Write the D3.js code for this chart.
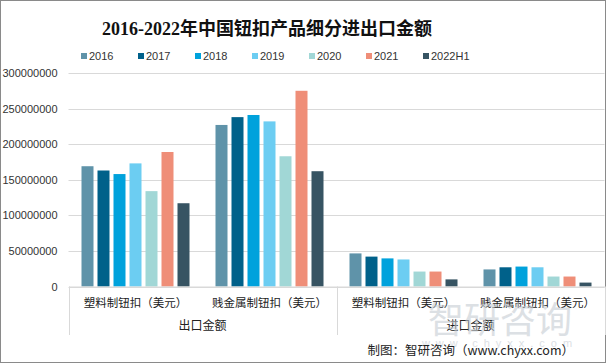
<!DOCTYPE html>
<html><head><meta charset="utf-8">
<script src="https://cdn.jsdelivr.net/npm/d3@7"></script>
<style>body{margin:0;background:#fff}svg{display:block}</style>
</head><body>
<script>
const categories = ["塑料制钮扣（美元）","贱金属制钮扣（美元）","塑料制钮扣（美元）","贱金属制钮扣（美元）"];
const groups = ["出口金额","进口金额"];
const years = ["2016","2017","2018","2019","2020","2021","2022H1"];
const colors = ["#5f93a9","#00618a","#00a2dc","#6ccdf2","#a1d7d6","#ef8e78","#375463"];
const v2016   = [169000000, 227000000, 46500000, 24000000];
const v2017   = [163000000, 238000000, 42000000, 27000000];
const v2018   = [158000000, 241000000, 39500000, 28000000];
const v2019   = [173000000, 232000000, 38000000, 27000000];
const v2020   = [134000000, 183000000, 21000000, 14000000];
const v2021   = [189000000, 275000000, 21000000, 14000000];
const v2022H1 = [117000000, 162000000, 10000000, 5500000];
const yTicks = [0,50000000,100000000,150000000,200000000,250000000,300000000];
const series = [v2016,v2017,v2018,v2019,v2020,v2021,v2022H1];

const W=606,H=363;
const svg=d3.select("body").append("svg").attr("width",W).attr("height",H);
svg.append("rect").attr("x",0.5).attr("y",0.5).attr("width",W-1).attr("height",H-1).attr("fill","#fff").attr("stroke","#8a8a8a");

const pL=68.5,pR=604.5,pT=73,pB=286.5;
const x=d3.scaleBand().domain(d3.range(categories.length)).range([pL,pR]).padding(0);
const xi=d3.scaleBand().domain(years).range([0,x.bandwidth()]).paddingInner(0.25).paddingOuter(0.8125);
const y=d3.scaleLinear().domain([0,300000000]).range([pB,pT]);

// title
svg.append("text").attr("x",267).attr("y",35).attr("text-anchor","middle")
  .attr("font-family","'Liberation Serif','Noto Sans CJK SC',serif").attr("font-weight","bold")
  .attr("font-size",18).attr("fill","#111").text("2016-2022年中国钮扣产品细分进出口金额");

// legend
const lg=svg.append("g");
years.forEach((yr,i)=>{
  const gx=81+i*57;
  lg.append("rect").attr("x",gx).attr("y",53).attr("width",6).attr("height",6).attr("fill",colors[i]);
  lg.append("text").attr("x",gx+8).attr("y",60).attr("font-family","'Liberation Sans',Arial,sans-serif")
    .attr("font-size",11).attr("fill","#333").text(yr);
});

// gridlines
svg.append("g").selectAll("line").data(yTicks).join("line")
  .attr("x1",pL).attr("x2",pR).attr("y1",d=>Math.round(y(d))+0.5).attr("y2",d=>Math.round(y(d))+0.5)
  .attr("stroke","#d9d9d9").attr("stroke-width",1);

// y axis labels
const ya=svg.append("g").attr("transform",`translate(${pL},0)`)
  .call(d3.axisLeft(y).tickValues(yTicks).tickFormat(d=>String(d)).tickSize(0).tickPadding(11));
ya.select(".domain").remove();
ya.selectAll("text").attr("font-family","'Liberation Sans',Arial,sans-serif").attr("font-size",11).attr("fill","#333");

// bars
const bars=svg.append("g");
series.forEach((s,si)=>{
  bars.selectAll(null).data(s).join("rect")
    .attr("x",(d,i)=>x(i)+xi(years[si])).attr("width",xi.bandwidth())
    .attr("y",d=>y(d)).attr("height",d=>pB-y(d)).attr("fill",colors[si]);
});

// x axis
const xa=svg.append("g").attr("transform",`translate(0,${pB})`)
  .call(d3.axisBottom(x).tickFormat(i=>categories[i]).tickSize(0).tickPadding(12));
xa.select(".domain").attr("stroke","#d9d9d9");
xa.selectAll("text").attr("font-family","'Noto Sans CJK SC',sans-serif").attr("font-size",11.5).attr("fill","#222");

// group separators
const seps=[pL, x(2), pR];
svg.append("g").selectAll("line").data(seps).join("line")
  .attr("x1",d=>Math.round(d)+0.5).attr("x2",d=>Math.round(d)+0.5).attr("y1",pB).attr("y2",335)
  .attr("stroke","#d9d9d9");
groups.forEach((g,gi)=>{
  svg.append("text").attr("x",(x(gi*2)+x(gi*2+1)+x.bandwidth())/2).attr("y",330).attr("text-anchor","middle")
    .attr("font-family","'Noto Sans CJK SC',sans-serif").attr("font-size",12).attr("fill","#222").text(g);
});

// watermark
svg.append("text").attr("x",500).attr("y",333).attr("text-anchor","middle")
  .attr("font-family","'Noto Sans CJK SC',sans-serif").attr("font-size",36).attr("fill","#c5ccd3").attr("opacity",0.6).text("智研咨询");
svg.append("text").attr("x",500).attr("y",347).attr("text-anchor","middle").attr("letter-spacing",6)
  .attr("font-family","'Liberation Sans',sans-serif").attr("font-size",11).attr("fill","#c5ccd3").attr("opacity",0.6).text("www.chyxx.com");

// source
svg.append("text").attr("x",574).attr("y",355).attr("text-anchor","end")
  .attr("font-family","'Noto Sans CJK SC',sans-serif").attr("font-size",12.5).attr("fill","#222").text("制图：智研咨询（www.chyxx.com）");
</script>
</body></html>
